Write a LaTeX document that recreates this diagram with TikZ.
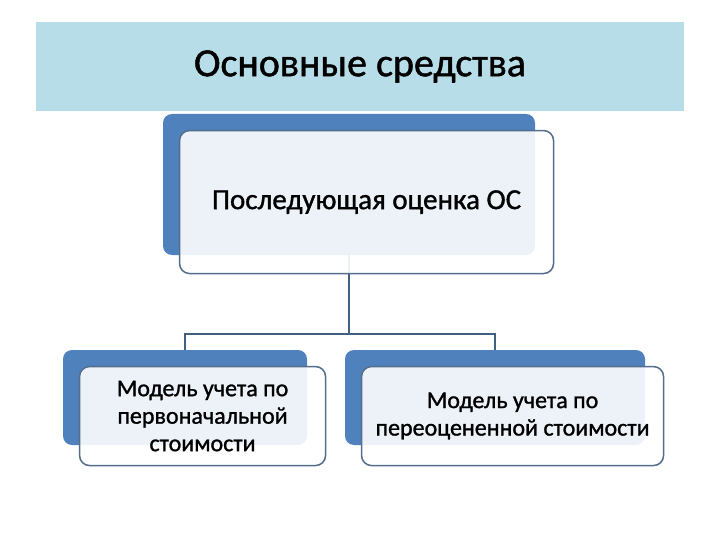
\documentclass[tikz,border=0pt]{standalone}
\usepackage{fontspec}
\setmainfont{Carlito}[FakeBold=1.2]
\usepackage{xcolor}
\usepackage{tikz}
\usetikzlibrary{positioning}

\definecolor{bandblue}{RGB}{183,222,232}
\definecolor{backblue}{RGB}{79,129,189}
\definecolor{edgeblue}{RGB}{84,110,140}
\definecolor{linkblue}{RGB}{64,96,128}

\begin{document}
\begin{tikzpicture}[
  x=1pt, y=-1pt,
  band/.style={rectangle, fill=bandblue, inner sep=0pt, minimum width=648pt, minimum height=89pt, font=\fontsize{40}{46}\selectfont},
  backbox/.style={rectangle, rounded corners=9pt, fill=backblue, inner sep=0pt},
  frontbox/.style={rectangle, rounded corners=10pt, draw=edgeblue, line width=1.5pt, fill=white, fill opacity=0.9, text opacity=1, align=center, inner sep=0pt, anchor=north west},
  link/.style={draw=linkblue, line width=1.5pt}
]
\useasboundingbox (0,0) rectangle (720,540);
\node[band] (title) at (360,66.5) {\raisebox{-3pt}{Основные средства}};
\node[backbox, minimum width=372pt, minimum height=141pt] (topback) at (349,184.5) {};
\node[backbox, minimum width=244pt, minimum height=95pt] (leftback) at (185,397.5) {};
\node[backbox, minimum width=300pt, minimum height=95pt] (rightback) at (495,397.5) {};
\coordinate (fork) at (349,334);
\draw[link] (topback.south) -- (fork) -| (leftback.north);
\draw[link] (fork) -| (rightback.north);
\node[frontbox, minimum width=374pt, minimum height=143pt, font=\fontsize{29}{34}\selectfont] (topfront) at ([shift={(16,16)}]topback.north west) {\raisebox{-3pt}{Последующая оценка ОС}};
\node[frontbox, minimum width=246pt, minimum height=99pt, font=\fontsize{24}{27.5}\selectfont] (leftfront) at ([shift={(16,16)}]leftback.north west) {Модель учета по\\первоначальной\\стоимости};
\node[frontbox, minimum width=302pt, minimum height=99pt, font=\fontsize{24}{27.5}\selectfont] (rightfront) at ([shift={(16,16)}]rightback.north west) {Модель учета по\\переоцененной стоимости};
\end{tikzpicture}
\end{document}
